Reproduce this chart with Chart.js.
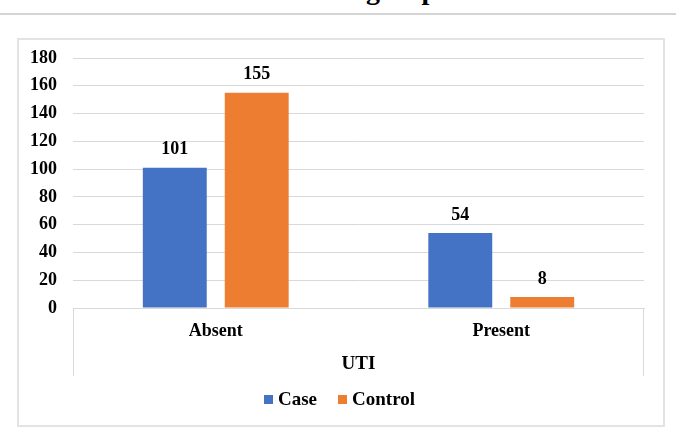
<!DOCTYPE html>
<html>
<head>
<meta charset="utf-8">
<script src="https://cdn.jsdelivr.net/npm/chart.js@4/dist/chart.umd.min.js"></script>
<style>
  html, body { margin: 0; padding: 0; background: #fff; }
  body { width: 676px; height: 441px; position: relative; overflow: hidden; font-family: "Liberation Serif", "Times New Roman", serif; }
  #title { position: absolute; right: 228px; top: -24px; font-size: 28px; line-height: 28px; font-weight: bold; white-space: nowrap; color: #000; }
  #rule { position: absolute; left: 0; top: 13px; width: 676px; height: 2px; background: #d4d4d4; }
  #frame { position: absolute; left: 17px; top: 38px; width: 648px; height: 389px; border: 2px solid #e3e3e3; box-sizing: border-box; }
  #wrap { position: absolute; left: 0; top: 0; width: 676px; height: 441px; }
  #legend { position: absolute; left: 0; top: 388px; width: 679px; display: flex; justify-content: center; gap: 21px; font-size: 19px; font-weight: bold; line-height: 22px; }
  .item { display: flex; align-items: center; gap: 5px; }
  .sw { width: 9px; height: 9px; display: inline-block; }
</style>
</head>
<body>
<div id="title">UTI in both groups</div>
<div id="rule"></div>
<div id="frame"></div>
<div id="wrap"><canvas id="c" width="676" height="441"></canvas></div>
<div id="legend"></div>
<script>
const categories = ["Absent", "Present"];
const seriesNames = ["Case", "Control"];
const caseValues = [101, 54];
const controlValues = [155, 8];
const yTicks = [0, 20, 40, 60, 80, 100, 120, 140, 160, 180];
const axisTitle = "UTI";
const colors = ["#4472C4", "#ED7D31"];

const FONT = "'Liberation Serif', 'Times New Roman', serif";
const GRID = "#d9d9d9";

const valueLabels = {
  id: "valueLabels",
  afterDatasetsDraw(chart) {
    const ctx = chart.ctx;
    ctx.save();
    ctx.font = "bold 18px " + FONT;
    ctx.fillStyle = "#000";
    ctx.textAlign = "center";
    ctx.textBaseline = "middle";
    chart.data.datasets.forEach((ds, i) => {
      chart.getDatasetMeta(i).data.forEach((bar, j) => {
        ctx.fillText(String(ds.data[j]), bar.x, bar.y - 18);
      });
    });
    ctx.restore();
  }
};

const categoryBox = {
  id: "categoryBox",
  afterDraw(chart) {
    const ctx = chart.ctx;
    const a = chart.chartArea;
    const xs = chart.scales.x;
    ctx.save();
    ctx.strokeStyle = GRID;
    ctx.lineWidth = 1;
    ctx.beginPath();
    ctx.moveTo(a.left + 0.5, a.bottom);
    ctx.lineTo(a.left + 0.5, xs.bottom);
    ctx.moveTo(a.right - 0.5, a.bottom);
    ctx.lineTo(a.right - 0.5, xs.bottom);
    ctx.stroke();
    ctx.restore();
  }
};

const chart = new Chart(document.getElementById("c"), {
  type: "bar",
  data: {
    labels: categories,
    datasets: [
      { label: seriesNames[0], data: caseValues, backgroundColor: colors[0] },
      { label: seriesNames[1], data: controlValues, backgroundColor: colors[1] }
    ]
  },
  options: {
    responsive: false,
    animation: false,
    layout: { padding: { left: 0, right: 32, top: 58, bottom: 65 } },
    datasets: { bar: { categoryPercentage: 0.574, barPercentage: 0.78 } },
    plugins: { legend: { display: false }, tooltip: { enabled: false } },
    scales: {
      x: {
        grid: { display: false },
        border: { display: true, color: GRID, width: 1 },
        ticks: { color: "#000", font: { family: FONT, size: 18, weight: "bold" }, padding: 5 },
        title: { display: true, text: axisTitle, color: "#000", font: { family: FONT, size: 19, weight: "bold" }, padding: { top: 0, bottom: 1 } },
        afterFit(s) { s.height = 68; }
      },
      y: {
        min: yTicks[0],
        max: yTicks[yTicks.length - 1],
        afterBuildTicks(s) { s.ticks = yTicks.map(v => ({ value: v })); },
        grid: { color: GRID, lineWidth: 1, drawTicks: false },
        border: { display: false },
        ticks: { color: "#000", font: { family: FONT, size: 18, weight: "bold" }, padding: 16 },
        afterFit(s) { s.width = 73; }
      }
    }
  },
  plugins: [valueLabels, categoryBox]
});

const legend = document.getElementById("legend");
chart.data.datasets.forEach(ds => {
  const item = document.createElement("span");
  item.className = "item";
  const sw = document.createElement("span");
  sw.className = "sw";
  sw.style.background = ds.backgroundColor;
  const t = document.createElement("span");
  t.textContent = ds.label;
  item.appendChild(sw);
  item.appendChild(t);
  legend.appendChild(item);
});
</script>
</body>
</html>
